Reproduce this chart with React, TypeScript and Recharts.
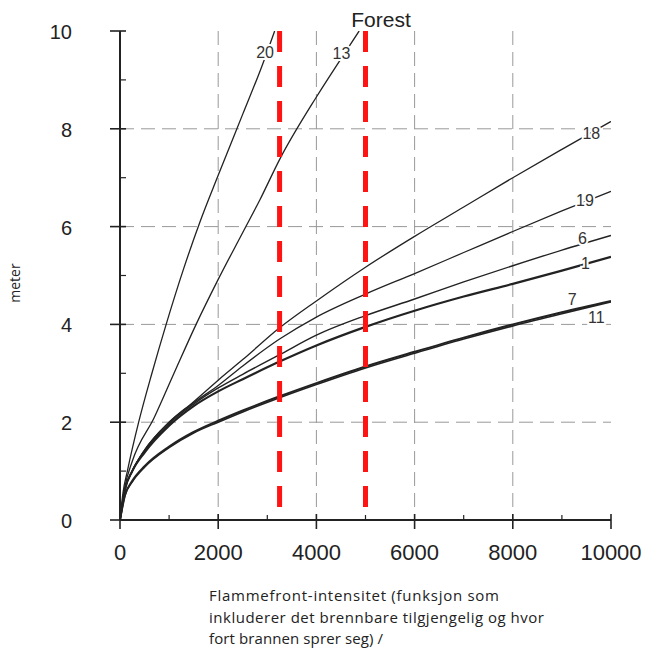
import { LineChart, Line, XAxis, YAxis, CartesianGrid, ReferenceLine, ReferenceDot } from "recharts";

// intensity values shared by the lower bundle of curves
const intensity = [0, 100, 250, 500, 1000, 1500, 2000, 2500, 3250, 4000, 5000, 6000, 7000, 8000, 9000, 10000];
const flame1 = [0, 0.62, 1.0, 1.38, 1.93, 2.33, 2.63, 2.88, 3.24, 3.57, 3.95, 4.28, 4.57, 4.83, 5.1, 5.38];
const flame6 = [0, 0.62, 1.0, 1.41, 1.97, 2.37, 2.7, 2.98, 3.38, 3.78, 4.18, 4.52, 4.87, 5.2, 5.52, 5.82];
const flame19 = [0, 0.62, 1.0, 1.43, 2.0, 2.4, 2.75, 3.15, 3.7, 4.15, 4.62, 5.04, 5.47, 5.9, 6.32, 6.72];
const flame18 = [0, 0.62, 1.0, 1.43, 2.0, 2.42, 2.86, 3.28, 3.93, 4.48, 5.17, 5.8, 6.4, 7.0, 7.58, 8.15];
const flame7 = [0, 0.5, 0.8, 1.1, 1.5, 1.8, 2.03, 2.24, 2.53, 2.8, 3.14, 3.44, 3.73, 4.0, 4.25, 4.48];
const flame11 = [0, 0.5, 0.78, 1.08, 1.48, 1.78, 2.0, 2.21, 2.5, 2.77, 3.11, 3.41, 3.7, 3.97, 4.22, 4.46];

// steep curves leave the plot at 10 m
const intensity20 = [0, 60, 150, 380, 650, 940, 1300, 1630, 2000, 2500, 2890, 3150];
const flame20 = [0, 0.55, 1.0, 2.0, 3.0, 4.0, 5.15, 6.1, 7.05, 8.3, 9.28, 10];
const intensity13 = [0, 100, 250, 700, 1100, 1550, 2000, 2500, 2850, 3260, 4000, 4480, 4870];
const flame13 = [0, 0.68, 1.2, 2.1, 3.0, 4.0, 4.92, 5.88, 6.55, 7.39, 8.65, 9.4, 10];

const forestLimits = [3250, 5000];

const xTicks = [0, 1000, 2000, 3000, 4000, 5000, 6000, 7000, 8000, 9000, 10000];
const yTicks = [0, 1, 2, 3, 4, 5, 6, 7, 8, 9, 10];
const gridX = [2000, 4000, 6000, 8000];
const gridY = [2, 4, 6, 8];

const curveLabels = [
  { text: "20", x: 2955, y: 9.55 },
  { text: "13", x: 4510, y: 9.52 },
  { text: "18", x: 9600, y: 7.9 },
  { text: "19", x: 9470, y: 6.52 },
  { text: "6", x: 9420, y: 5.74 },
  { text: "1", x: 9480, y: 5.24 },
  { text: "7", x: 9210, y: 4.5 },
  { text: "11", x: 9700, y: 4.14 },
];

const font = "'Liberation Sans', Arial, sans-serif";
const bodyFont = "'Open Sans', 'Noto Sans', sans-serif";
const ink = "#222";

const pts = (xs: number[], ys: number[]) => xs.map((x, i) => ({ x, y: ys[i] }));

const BottomTick = (props: any) => {
  const { x, y, payload } = props;
  const v = payload.value;
  const major = v % 2000 === 0;
  return (
    <g>
      {major ? (
        <line x1={x} x2={x} y1={y - 6} y2={y + 9} stroke={ink} strokeWidth={1.6} />
      ) : (
        <line x1={x} x2={x} y1={y} y2={y - 5} stroke={ink} strokeWidth={1.2} />
      )}
      {major && (
        <text x={x} y={y + 40} textAnchor="middle" fontSize={22} style={{ fontFamily: font }} fill={ink}>
          {v}
        </text>
      )}
    </g>
  );
};

const LeftTick = (props: any) => {
  const { x, y, payload } = props;
  const v = payload.value;
  const major = v % 2 === 0;
  return (
    <g>
      {major ? (
        <line x1={x - 10} x2={x + 6} y1={y} y2={y} stroke={ink} strokeWidth={1.6} />
      ) : (
        <line x1={x} x2={x + 6} y1={y} y2={y} stroke={ink} strokeWidth={1.2} />
      )}
      {major && (
        <text x={x - 48} y={y + 8} textAnchor="end" fontSize={20} style={{ fontFamily: font }} fill={ink}>
          {v}
        </text>
      )}
    </g>
  );
};

const TopTick = (props: any) => {
  const { x, y, payload } = props;
  if (payload.value === 0 || payload.value === 10000) return <g />;
  return <line x1={x} x2={x} y1={y} y2={y + 5} stroke={ink} strokeWidth={1.2} />;
};

const RightTick = (props: any) => {
  const { x, y, payload } = props;
  if (payload.value === 0 || payload.value === 10) return <g />;
  return <line x1={x - 7} x2={x} y1={y} y2={y} stroke="#555" strokeWidth={1.2} />;
};

const CurveLabel = (text: string) => (p: any) => (
  <text
    x={p.cx}
    y={p.cy + 5}
    textAnchor="middle"
    fontSize={16}
    style={{ fontFamily: font }}
    fill="#333"
    stroke="#fff"
    strokeWidth={4}
    paintOrder="stroke"
  >
    {text}
  </text>
);

const series = [
  { key: "20", data: pts(intensity20, flame20), width: 1.3 },
  { key: "13", data: pts(intensity13, flame13), width: 1.3 },
  { key: "18", data: pts(intensity, flame18), width: 1.3 },
  { key: "19", data: pts(intensity, flame19), width: 1.3 },
  { key: "6", data: pts(intensity, flame6), width: 1.4 },
  { key: "1", data: pts(intensity, flame1), width: 2.2 },
  { key: "11", data: pts(intensity, flame11), width: 1.6 },
  { key: "7", data: pts(intensity, flame7), width: 2.0 },
];

export default function App() {
  return (
    <div style={{ position: "absolute", left: 0, top: 0, width: 646, height: 658, background: "#fff" }}>
      <LineChart width={646} height={580} margin={{ top: 31, right: 35, bottom: 30, left: 0 }}>
        <CartesianGrid
          verticalValues={gridX}
          horizontalValues={gridY}
          stroke="#999"
          strokeDasharray="14 7"
          strokeWidth={1}
        />
        <XAxis
          type="number"
          dataKey="x"
          domain={[0, 10000]}
          allowDataOverflow
          ticks={xTicks}
          interval={0}
          tickSize={0}
          tickMargin={0}
          tickLine={false}
          tick={<BottomTick />}
          height={30}
          axisLine={{ stroke: ink, strokeWidth: 2 }}
        />
        <XAxis
          xAxisId="top"
          orientation="top"
          type="number"
          domain={[0, 10000]}
          allowDataOverflow
          ticks={xTicks}
          interval={0}
          tickSize={0}
          tickMargin={0}
          tickLine={false}
          tick={<TopTick />}
          height={0}
          axisLine={{ stroke: ink, strokeWidth: 2 }}
        />
        <YAxis
          type="number"
          domain={[0, 10]}
          allowDataOverflow
          ticks={yTicks}
          interval={0}
          tickSize={0}
          tickMargin={0}
          tickLine={false}
          tick={<LeftTick />}
          width={120}
          axisLine={{ stroke: ink, strokeWidth: 2 }}
        />
        <YAxis
          yAxisId="right"
          orientation="right"
          type="number"
          domain={[0, 10]}
          allowDataOverflow
          ticks={yTicks}
          interval={0}
          tickSize={0}
          tickMargin={0}
          tickLine={false}
          tick={<RightTick />}
          width={0}
          axisLine={{ stroke: "#555", strokeWidth: 1.5 }}
        />
        {series.map((s) => (
          <Line
            key={s.key}
            data={s.data}
            dataKey="y"
            type="monotone"
            stroke={ink}
            strokeWidth={s.width}
            dot={false}
            activeDot={false}
            isAnimationActive={false}
          />
        ))}
        {forestLimits.map((v) => (
          <ReferenceLine
            key={v}
            segment={[
              { x: v, y: 10 },
              { x: v, y: 0 },
            ]}
            stroke="#ff1414"
            strokeWidth={5}
            strokeDasharray="21 14"
          />
        ))}
        {curveLabels.map((l) => (
          <ReferenceDot key={l.text} x={l.x} y={l.y} r={0} shape={CurveLabel(l.text)} />
        ))}
      </LineChart>
      <svg width={646} height={658} style={{ position: "absolute", left: 0, top: 0, pointerEvents: "none" }}>
        <text x={381} y={27} textAnchor="middle" fontSize={21} style={{ fontFamily: font }} fill={ink}>
          Forest
        </text>
        <text
          x={20}
          y={283}
          transform="rotate(-90 20 283)"
          textAnchor="middle"
          fontSize={14}
          style={{ fontFamily: bodyFont }}
          fill={ink}
        >
          meter
        </text>
        <g fontSize={15} style={{ fontFamily: bodyFont }} fill={ink}>
          <text x={209} y={601} textLength={290} lengthAdjust="spacing">
            Flammefront-intensitet (funksjon som
          </text>
          <text x={209} y={623} textLength={335} lengthAdjust="spacing">
            inkluderer det brennbare tilgjengelig og hvor
          </text>
          <text x={209} y={644} textLength={174} lengthAdjust="spacing">
            fort brannen sprer seg) /
          </text>
        </g>
      </svg>
    </div>
  );
}
